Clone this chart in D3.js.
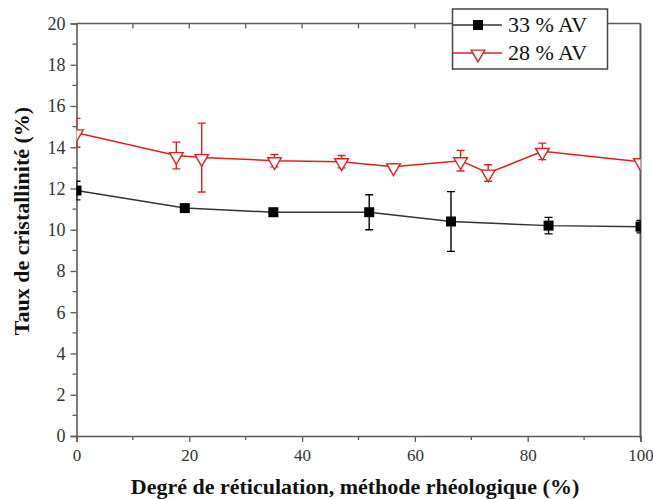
<!DOCTYPE html>
<html><head><meta charset="utf-8">
<script src="https://cdn.jsdelivr.net/npm/d3@7"></script>
<style>body{margin:0;background:#fff}svg{display:block}
text{font-family:"Liberation Serif","Times New Roman",serif}</style>
</head><body>
<script>
// Data
const seriesNames = ["33 % AV", "28 % AV"];
const xAV33 = [0, 19.2, 34.9, 51.9, 66.4, 83.7, 100];
const yAV33 = [11.9, 11.05, 10.85, 10.85, 10.4, 10.2, 10.15];
const eAV33 = [0.45, 0, 0, 0.85, 1.45, 0.4, 0.3];
const xAV28 = [0, 17.7, 22.2, 35.1, 47, 56.2, 68.1, 73.0, 82.6, 100];
const yAV28 = [14.7, 13.6, 13.5, 13.35, 13.3, 13.05, 13.35, 12.75, 13.8, 13.3];
const eAV28 = [0.7, 0.65, 1.67, 0.3, 0.3, 0.15, 0.5, 0.4, 0.4, 0];
const xTicks = [0, 20, 40, 60, 80, 100];
const yTicks = [0, 2, 4, 6, 8, 10, 12, 14, 16, 18, 20];
const xLabel = "Degré de réticulation, méthode rhéologique (%)";
const yLabel = "Taux de cristallinité (%)";

const W = 653, H = 499;
const L = 76.5, R = 640.5, T = 23.5, B = 436;
const svg = d3.select("body").append("svg").attr("width", W).attr("height", H);
const x = d3.scaleLinear().domain([0, 100]).range([L, R]);
const y = d3.scaleLinear().domain([0, 20]).range([B, T]);
const axisCol = "#5a5a5a";
const font = "'Liberation Serif','Times New Roman',serif";

svg.append("defs").append("clipPath").attr("id", "clip")
  .append("rect").attr("x", L).attr("y", T - 20).attr("width", R - L).attr("height", B - T + 20);

// Frame (top & right)
svg.append("line").attr("x1", L).attr("x2", R).attr("y1", T).attr("y2", T).attr("stroke", axisCol).attr("stroke-width", 1.6);
svg.append("line").attr("x1", R).attr("x2", R).attr("y1", T).attr("y2", B + 2).attr("stroke", axisCol).attr("stroke-width", 2);
// top inner ticks
svg.append("g").selectAll("line").data(d3.range(10, 100, 10)).join("line")
  .attr("x1", d => x(d)).attr("x2", d => x(d)).attr("y1", T).attr("y2", T + 5)
  .attr("stroke", axisCol).attr("stroke-width", 1.3);

// Bottom axis
const gx = svg.append("g").attr("transform", `translate(0,${B})`)
  .call(d3.axisBottom(x).tickValues(xTicks).tickSize(6).tickPadding(7).tickFormat(d3.format("d")));
gx.append("g").selectAll("line").data(d3.range(10, 100, 20)).join("line")
  .attr("x1", d => x(d)).attr("x2", d => x(d)).attr("y1", 0).attr("y2", 4);
// Left axis
const gy = svg.append("g").attr("transform", `translate(${L},0)`)
  .call(d3.axisLeft(y).tickValues(yTicks).tickSize(6).tickPadding(5).tickFormat(d3.format("d")));
gy.append("g").selectAll("line").data(d3.range(1, 20, 2)).join("line")
  .attr("x1", 0).attr("x2", -4).attr("y1", d => y(d)).attr("y2", d => y(d));
[gx, gy].forEach(g => {
  g.attr("font-family", null).attr("font-size", null);
  g.select(".domain").attr("stroke", axisCol).attr("stroke-width", 1.6);
  g.selectAll("line").attr("stroke", axisCol).attr("stroke-width", 1.3);
  g.selectAll("text").style("font-family", font).attr("fill", "#333");
});
gx.selectAll("text").style("font-size", "17px");
gy.selectAll("text").style("font-size", "18px");

// Titles
svg.append("text").attr("x", 355).attr("y", 494).attr("text-anchor", "middle")
  .style("font-family", font).attr("font-weight", "bold").style("font-size", "22px").attr("fill", "#111").text(xLabel);
svg.append("text").attr("transform", "translate(29,221) rotate(-90)").attr("text-anchor", "middle")
  .style("font-family", font).attr("font-weight", "bold").style("font-size", "22px").attr("fill", "#111").text(yLabel);

const plot = svg.append("g").attr("clip-path", "url(#clip)");
const tri = d3.symbol().type(d3.symbolTriangle).size(80);

function drawSeries(xs, ys, es, col, lineCol, kind) {
  const pts = xs.map((v, i) => ({x: v, y: ys[i], e: es[i]}));
  plot.append("path").datum(pts)
    .attr("d", d3.line().x(d => x(d.x)).y(d => y(d.y)))
    .attr("fill", "none").attr("stroke", lineCol).attr("stroke-width", 1.5);
  const eb = plot.append("g").attr("stroke", col).attr("stroke-width", 1.4);
  pts.filter(d => d.e > 0).forEach(d => {
    eb.append("line").attr("x1", x(d.x)).attr("x2", x(d.x)).attr("y1", y(d.y - d.e)).attr("y2", y(d.y + d.e));
    [d.y - d.e, d.y + d.e].forEach(v => eb.append("line")
      .attr("x1", x(d.x) - 4).attr("x2", x(d.x) + 4).attr("y1", y(v)).attr("y2", y(v)));
  });
  if (kind === "square") {
    plot.append("g").selectAll("rect").data(pts).join("rect")
      .attr("x", d => x(d.x) - 5).attr("y", d => y(d.y) - 5).attr("width", 10).attr("height", 10)
      .attr("fill", "#000");
  } else {
    plot.append("g").selectAll("path").data(pts).join("path")
      .attr("d", tri).attr("transform", d => `translate(${x(d.x)},${y(d.y) + 1}) rotate(180)`)
      .attr("fill", "#fff").attr("stroke", col).attr("stroke-width", 1.4);
  }
}
drawSeries(xAV33, yAV33, eAV33, "#000", "#333", "square");
drawSeries(xAV28, yAV28, eAV28, "#e02020", "#e02020", "triangle");

// Legend
const lg = svg.append("g");
lg.append("rect").attr("x", 452.5).attr("y", 9).attr("width", 155).attr("height", 60)
  .attr("fill", "#fff").attr("stroke", "#444").attr("stroke-width", 1.5);
const items = [
  {name: seriesNames[0], col: "#000", line: "#333", kind: "square", yy: 25},
  {name: seriesNames[1], col: "#e02020", line: "#e02020", kind: "triangle", yy: 53}
];
items.forEach(it => {
  lg.append("line").attr("x1", 453).attr("x2", 502).attr("y1", it.yy).attr("y2", it.yy)
    .attr("stroke", it.line).attr("stroke-width", 1.5);
  if (it.kind === "square") {
    lg.append("rect").attr("x", 473).attr("y", it.yy - 5).attr("width", 10).attr("height", 10).attr("fill", "#000");
  } else {
    lg.append("path").attr("d", tri).attr("transform", `translate(478,${it.yy + 1}) rotate(180)`)
      .attr("fill", "#fff").attr("stroke", it.col).attr("stroke-width", 1.4);
  }
  lg.append("text").attr("x", 508).attr("y", it.yy + 7).style("font-family", font).style("font-size", "22px")
    .attr("fill", "#111").text(it.name);
});
</script>
</body></html>
